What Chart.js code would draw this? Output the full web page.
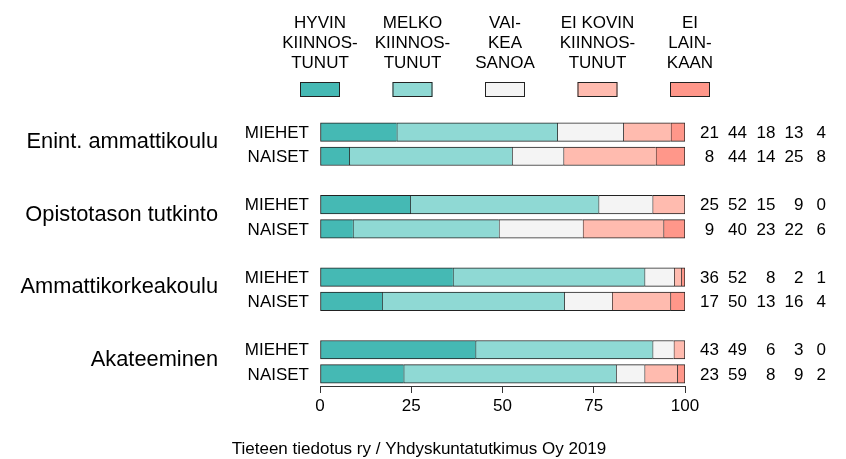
<!DOCTYPE html>
<html><head><meta charset="utf-8">
<script src="https://cdn.jsdelivr.net/npm/chart.js@4"></script>
<style>html,body{margin:0;padding:0;background:#fff}#wrap{width:846px;height:459px;position:relative}</style>
</head><body><div id="wrap"><canvas id="c" width="846" height="459"></canvas></div>
<script>
// ---- data ----
const groups = ['Enint. ammattikoulu', 'Opistotason tutkinto', 'Ammattikorkeakoulu', 'Akateeminen'];
const sexes = ['MIEHET', 'NAISET'];
const seriesNames = [
  ['HYVIN', 'KIINNOS-', 'TUNUT'],
  ['MELKO', 'KIINNOS-', 'TUNUT'],
  ['VAI-', 'KEA', 'SANOA'],
  ['EI KOVIN', 'KIINNOS-', 'TUNUT'],
  ['EI', 'LAIN-', 'KAAN']
];
// bar lengths (%) per row: G1 M, G1 N, G2 M, G2 N, G3 M, G3 N, G4 M, G4 N
const hyvin   = [21.0,  8.0, 24.7,  9.0, 36.4, 17.0, 42.6, 22.9];
const melko   = [44.0, 44.6, 51.6, 40.0, 52.5, 49.9, 48.5, 58.2];
const vaikea  = [18.1, 14.1, 14.8, 23.0,  8.1, 13.1,  5.8,  7.8];
const eiKovin = [13.0, 25.3,  8.9, 22.1,  2.0, 16.0,  3.1,  9.0];
const eiLain  = [ 3.9,  8.0,  0.0,  5.9,  1.0,  4.0,  0.0,  2.1];
// printed numbers at right
const lblHyvin   = [21,  8, 25,  9, 36, 17, 43, 23];
const lblMelko   = [44, 44, 52, 40, 52, 50, 49, 59];
const lblVaikea  = [18, 14, 15, 23,  8, 13,  6,  8];
const lblEiKovin = [13, 25,  9, 22,  2, 16,  3,  9];
const lblEiLain  = [ 4,  8,  0,  6,  1,  4,  0,  2];
const xTicks = [0, 25, 50, 75, 100];
const caption = 'Tieteen tiedotus ry / Yhdyskuntatutkimus Oy 2019';

// ---- styling ----
const colors = ['#45B9B4', '#8FD9D4', '#F4F4F4', '#FFBBAF', '#FF978A'];
const FONT = '"Liberation Sans", Arial, Helvetica, sans-serif';
const series = [hyvin, melko, vaikea, eiKovin, eiLain];
const labelsNum = [lblHyvin, lblMelko, lblVaikea, lblEiKovin, lblEiLain];

// slots: each group gets 2 rows, with an empty slot between groups
const rowSlot = [];
groups.forEach((g, gi) => sexes.forEach((s, si) => rowSlot.push(gi * 3 + si)));
const nSlots = groups.length * 3 - 1;
const slotLabels = Array.from({length: nSlots}, (_, i) => String(i));
function toSlots(arr) {
  const out = new Array(nSlots).fill(null);
  arr.forEach((v, r) => { out[rowSlot[r]] = v; });
  return out;
}
function lastNonZero(slot) {
  const r = rowSlot.indexOf(slot);
  if (r < 0) return -1;
  let last = -1;
  series.forEach((s, i) => { if (s[r] > 0) last = i; });
  return last;
}

const textPlugin = {
  id: 'texts',
  afterDraw(chart) {
    const ctx = chart.ctx;
    const y = chart.scales.y;
    ctx.save();
    ctx.fillStyle = '#000';
    // legend
    const legX = [320, 412.5, 505, 597.5, 690];
    seriesNames.forEach((lines, i) => {
      ctx.font = '17px ' + FONT;
      ctx.textAlign = 'center';
      ctx.textBaseline = 'alphabetic';
      ctx.fillStyle = '#000';
      lines.forEach((t, k) => ctx.fillText(t, legX[i], 28 + k * 20));
      ctx.fillStyle = colors[i];
      ctx.fillRect(legX[i] - 20, 82, 40, 15);
      ctx.strokeStyle = '#222';
      ctx.lineWidth = 1;
      ctx.strokeRect(legX[i] - 20 + 0.5, 82.5, 39, 14);
    });
    ctx.fillStyle = '#000';
    // group labels
    groups.forEach((g, gi) => {
      const yc = (y.getPixelForValue(gi * 3) + y.getPixelForValue(gi * 3 + 1)) / 2;
      ctx.font = '21.8px ' + FONT;
      ctx.textAlign = 'right';
      ctx.textBaseline = 'middle';
      ctx.fillText(g, 218, yc - 2);
    });
    // sex labels and numbers
    const colRight = [719, 747, 775.5, 803.5, 826];
    rowSlot.forEach((slot, r) => {
      const yc = y.getPixelForValue(slot);
      ctx.font = '17px ' + FONT;
      ctx.textBaseline = 'middle';
      ctx.textAlign = 'right';
      ctx.fillText(sexes[r % 2], 309, yc + 1);
      labelsNum.forEach((arr, i) => {
        if (i === 0) {
          ctx.textAlign = 'center';
          ctx.fillText(String(arr[r]), 709.5, yc + 1);
        } else {
          ctx.textAlign = 'right';
          ctx.fillText(String(arr[r]), colRight[i], yc + 1);
        }
      });
    });
    // caption
    ctx.font = '17px ' + FONT;
    ctx.textAlign = 'center';
    ctx.textBaseline = 'alphabetic';
    ctx.fillText(caption, 419, 454);
    ctx.restore();
  }
};

new Chart(document.getElementById('c'), {
  type: 'bar',
  data: {
    labels: slotLabels,
    datasets: series.map((s, i) => ({
      label: seriesNames[i].join(' '),
      data: toSlots(s),
      backgroundColor: colors[i],
      borderColor: '#222',
      borderSkipped: false,
      borderWidth: (c) => ({top: 1, bottom: 1, left: 1, right: lastNonZero(c.dataIndex) === i ? 1 : 0}),
      barThickness: 18.5
    }))
  },
  options: {
    indexAxis: 'y',
    responsive: false,
    animation: false,
    events: [],
    plugins: {legend: {display: false}, tooltip: {enabled: false}},
    layout: {padding: {left: 320, right: 161, top: 120, bottom: 33}},
    scales: {
      x: {
        type: 'linear', stacked: true, min: 0, max: 100,
        afterBuildTicks: (s) => { s.ticks = xTicks.map(v => ({value: v})); },
        ticks: {color: '#000', font: {family: FONT, size: 17}, padding: 3, maxRotation: 0},
        grid: {drawOnChartArea: false, drawTicks: true, tickLength: 7, color: '#333'},
        border: {display: true, color: '#333', width: 1},
        afterFit: (s) => { s.height = 40; }
      },
      y: {type: 'category', stacked: true, display: false, offset: true}
    }
  },
  plugins: [textPlugin]
});
</script>
</body></html>
